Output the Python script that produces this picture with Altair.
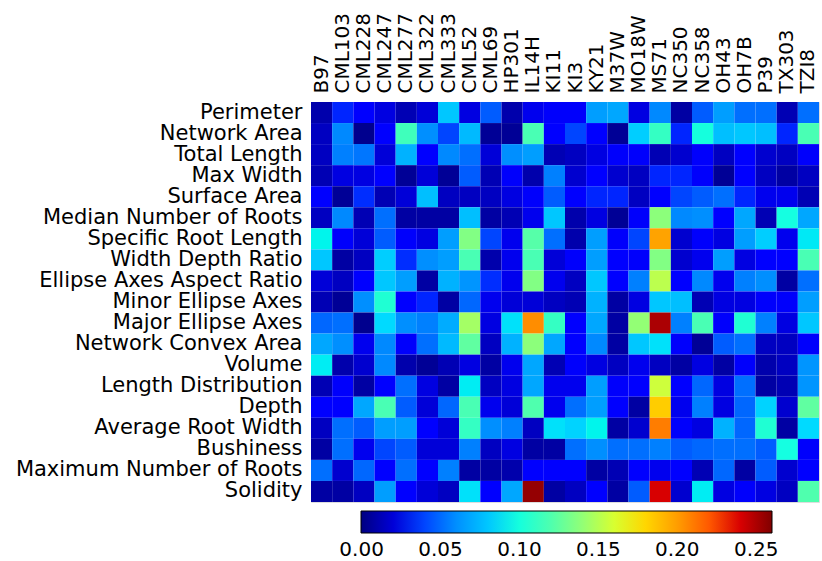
import altair as alt
import numpy as np
import pandas as pd

genotypes = ["B97", "CML103", "CML228", "CML247", "CML277", "CML322", "CML333",
             "CML52", "CML69", "HP301", "IL14H", "KI11", "KI3", "KY21", "M37W",
             "MO18W", "MS71", "NC350", "NC358", "OH43", "OH7B", "P39", "TX303", "TZI8"]

traits = ["Perimeter", "Network Area", "Total Length", "Max Width", "Surface Area",
          "Median Number of Roots", "Specific Root Length", "Width Depth Ratio",
          "Ellipse Axes Aspect Ratio", "Minor Ellipse Axes", "Major Ellipse Axes",
          "Network Convex Area", "Volume", "Length Distribution", "Depth",
          "Average Root Width", "Bushiness", "Maximum Number of Roots", "Solidity"]

perimeter = [0.010, 0.035, 0.030, 0.022, 0.012, 0.020, 0.080, 0.022, 0.045, 0.010, 0.025, 0.028,
             0.028, 0.065, 0.068, 0.022, 0.058, 0.008, 0.045, 0.065, 0.050, 0.050, 0.012, 0.050]
network_area = [0.015, 0.058, 0.003, 0.030, 0.115, 0.060, 0.040, 0.075, 0.005, 0.005, 0.118, 0.030,
                0.040, 0.030, 0.005, 0.083, 0.112, 0.035, 0.100, 0.077, 0.080, 0.077, 0.035, 0.118]
total_length = [0.015, 0.055, 0.052, 0.020, 0.072, 0.032, 0.058, 0.050, 0.020, 0.060, 0.065, 0.012,
                0.015, 0.022, 0.028, 0.028, 0.012, 0.018, 0.028, 0.015, 0.030, 0.018, 0.015, 0.028]
max_width = [0.012, 0.022, 0.022, 0.030, 0.005, 0.020, 0.005, 0.045, 0.012, 0.028, 0.010, 0.055,
             0.018, 0.030, 0.018, 0.015, 0.035, 0.035, 0.028, 0.005, 0.030, 0.015, 0.008, 0.015]
surface_area = [0.030, 0.005, 0.036, 0.012, 0.020, 0.077, 0.015, 0.015, 0.015, 0.022, 0.028, 0.045,
                0.030, 0.035, 0.035, 0.015, 0.030, 0.040, 0.045, 0.050, 0.035, 0.025, 0.025, 0.012]
median_roots = [0.015, 0.058, 0.012, 0.050, 0.008, 0.008, 0.008, 0.077, 0.008, 0.012, 0.025, 0.080,
                0.010, 0.022, 0.005, 0.028, 0.138, 0.058, 0.060, 0.030, 0.068, 0.012, 0.098, 0.068]
specific_root_length = [0.095, 0.028, 0.020, 0.045, 0.028, 0.022, 0.065, 0.135, 0.040, 0.025, 0.122, 0.050,
                        0.010, 0.065, 0.028, 0.040, 0.198, 0.018, 0.028, 0.022, 0.065, 0.083, 0.025, 0.092]
width_depth_ratio = [0.080, 0.008, 0.015, 0.083, 0.036, 0.060, 0.065, 0.118, 0.010, 0.025, 0.118, 0.020,
                     0.028, 0.065, 0.030, 0.028, 0.135, 0.018, 0.025, 0.065, 0.022, 0.030, 0.030, 0.118]
ellipse_aspect = [0.020, 0.015, 0.030, 0.080, 0.065, 0.008, 0.072, 0.062, 0.036, 0.025, 0.135, 0.025,
                  0.015, 0.080, 0.030, 0.055, 0.152, 0.030, 0.058, 0.025, 0.055, 0.060, 0.008, 0.050]
minor_ellipse = [0.012, 0.005, 0.060, 0.105, 0.030, 0.035, 0.008, 0.048, 0.025, 0.020, 0.020, 0.015,
                 0.012, 0.072, 0.008, 0.022, 0.080, 0.077, 0.012, 0.022, 0.022, 0.028, 0.028, 0.065]
major_ellipse = [0.048, 0.050, 0.003, 0.088, 0.060, 0.055, 0.070, 0.145, 0.022, 0.090, 0.205, 0.112,
                 0.030, 0.068, 0.008, 0.140, 0.250, 0.055, 0.118, 0.028, 0.105, 0.055, 0.022, 0.080]
network_convex_area = [0.068, 0.060, 0.025, 0.058, 0.028, 0.050, 0.075, 0.125, 0.015, 0.072, 0.138, 0.068,
                       0.030, 0.058, 0.008, 0.080, 0.090, 0.028, 0.005, 0.045, 0.050, 0.015, 0.015, 0.028]
volume = [0.093, 0.010, 0.018, 0.058, 0.010, 0.005, 0.012, 0.022, 0.008, 0.025, 0.068, 0.012,
          0.028, 0.022, 0.015, 0.025, 0.015, 0.008, 0.022, 0.008, 0.028, 0.010, 0.015, 0.062]
length_distribution = [0.012, 0.028, 0.008, 0.030, 0.050, 0.022, 0.008, 0.093, 0.015, 0.022, 0.068, 0.025,
                       0.025, 0.065, 0.028, 0.030, 0.157, 0.030, 0.048, 0.022, 0.050, 0.008, 0.012, 0.062]
depth = [0.030, 0.030, 0.068, 0.118, 0.045, 0.020, 0.048, 0.118, 0.025, 0.020, 0.120, 0.025,
         0.050, 0.065, 0.030, 0.008, 0.183, 0.025, 0.055, 0.022, 0.048, 0.085, 0.018, 0.125]
average_root_width = [0.015, 0.050, 0.045, 0.065, 0.065, 0.030, 0.020, 0.112, 0.060, 0.055, 0.015, 0.090,
                      0.085, 0.095, 0.008, 0.018, 0.210, 0.028, 0.022, 0.072, 0.048, 0.105, 0.008, 0.088]
bushiness = [0.008, 0.050, 0.025, 0.040, 0.045, 0.020, 0.020, 0.055, 0.015, 0.022, 0.008, 0.008,
             0.050, 0.060, 0.050, 0.050, 0.055, 0.045, 0.048, 0.050, 0.050, 0.045, 0.098, 0.028]
max_roots = [0.050, 0.018, 0.048, 0.030, 0.050, 0.030, 0.055, 0.008, 0.008, 0.010, 0.030, 0.030,
             0.030, 0.008, 0.012, 0.030, 0.025, 0.030, 0.012, 0.048, 0.008, 0.045, 0.018, 0.030]
solidity = [0.008, 0.008, 0.015, 0.065, 0.030, 0.020, 0.015, 0.090, 0.030, 0.068, 0.255, 0.008,
            0.015, 0.030, 0.008, 0.045, 0.240, 0.018, 0.093, 0.022, 0.028, 0.022, 0.015, 0.120]

rows = [perimeter, network_area, total_length, max_width, surface_area, median_roots,
        specific_root_length, width_depth_ratio, ellipse_aspect, minor_ellipse, major_ellipse,
        network_convex_area, volume, length_distribution, depth, average_root_width,
        bushiness, max_roots, solidity]

legend_ticks = [0.00, 0.05, 0.10, 0.15, 0.20, 0.25]
vmax = 0.26

records = []
for t, vals in zip(traits, rows):
    for g, v in zip(genotypes, vals):
        records.append({"trait": t, "genotype": g, "value": v})
df = pd.DataFrame(records)

# matplotlib "jet" colormap as a piecewise-linear scale
stops = np.array([0, 0.11, 0.125, 0.34, 0.35, 0.375, 0.64, 0.65, 0.66, 0.89, 0.91, 1.0])
r = np.interp(stops, [0, 0.35, 0.66, 0.89, 1], [0, 0, 1, 1, 0.5])
g = np.interp(stops, [0, 0.125, 0.375, 0.64, 0.91, 1], [0, 0, 1, 1, 0, 0])
b = np.interp(stops, [0, 0.11, 0.34, 0.65, 1], [0.5, 1, 1, 0, 0])
jet_colors = ["#%02x%02x%02x" % (int(round(rr * 255)), int(round(gg * 255)), int(round(bb * 255)))
              for rr, gg, bb in zip(r, g, b)]
jet_domain = [float(s * vmax) for s in stops]
# nudge the lower end just below zero so the "0.00" legend label is centred on its position
jet_domain[0] = -0.0004

font = "DejaVu Sans"

chart = alt.Chart(df).mark_rect().encode(
    x=alt.X("genotype:N", sort=genotypes,
            scale=alt.Scale(paddingInner=0, paddingOuter=0),
            axis=alt.Axis(orient="top", title=None, labelAngle=270, labelAlign="left",
                          labelBaseline="middle", labelFont=font, labelFontSize=20,
                          labelColor="black", ticks=False, domain=False, labelPadding=9,
                          labelLimit=400)),
    y=alt.Y("trait:N", sort=traits,
            scale=alt.Scale(paddingInner=0, paddingOuter=0),
            axis=alt.Axis(title=None, labelFont=font, labelFontSize=21, labelColor="black",
                          ticks=False, domain=False, labelPadding=9, labelLimit=400)),
    color=alt.Color("value:Q",
                    scale=alt.Scale(domain=jet_domain, range=jet_colors),
                    legend=alt.Legend(orient="none", legendX=50, legendY=409,
                                      direction="horizontal", title=None,
                                      gradientLength=411, gradientThickness=22,
                                      gradientStrokeColor="black", gradientStrokeWidth=1,
                                      values=legend_ticks, format=".2f",
                                      labelFont=font, labelFontSize=20, labelColor="black",
                                      labelAlign="center", labelOverlap=False,
                                      labelOffset=7, padding=0)),
).properties(
    width=508, height=400,
    autosize=alt.AutoSizeParams(type="none"),
    padding={"left": 311, "top": 102, "right": 3, "bottom": 59},
).configure_view(
    stroke="black", strokeWidth=1.5
).configure(background="white")

chart.save("out.html", embed_options={"renderer": "svg", "actions": False})
